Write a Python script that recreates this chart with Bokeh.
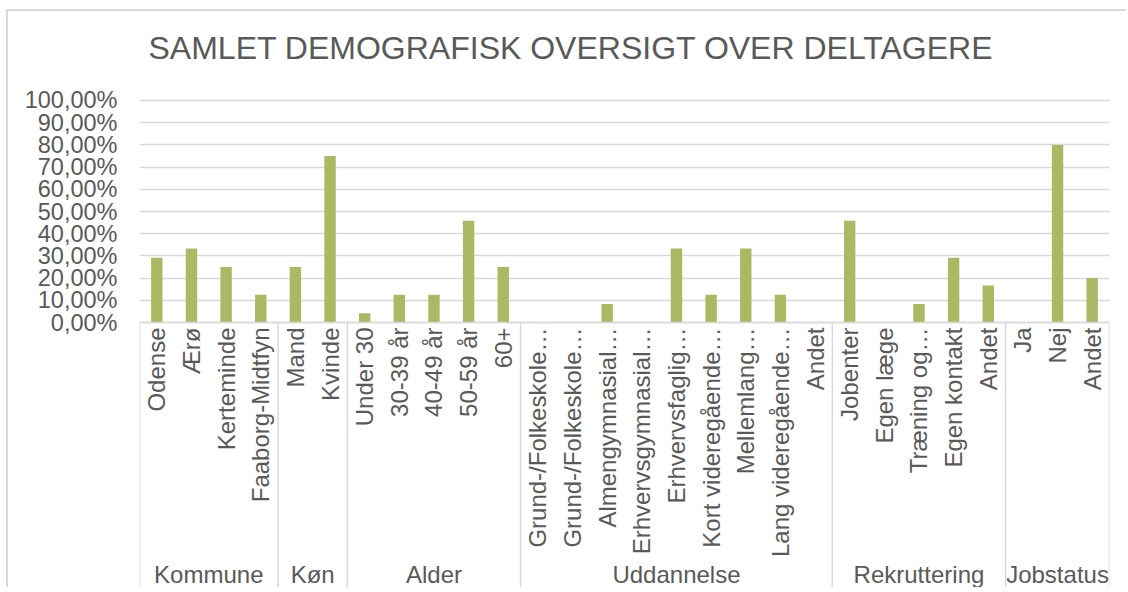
import math
from bokeh.plotting import figure
from bokeh.models import FactorRange, Range1d, FixedTicker, ColumnDataSource
from bokeh.embed import file_html
from bokeh.resources import INLINE
from bokeh.core.properties import value

# ---- data ----
title_text = "SAMLET DEMOGRAFISK OVERSIGT OVER DELTAGERE"
groups = ["Kommune", "Køn", "Alder", "Uddannelse", "Rekruttering", "Jobstatus"]

kommune = ["Odense", "Ærø", "Kerteminde", "Faaborg-Midtfyn"]
kommune_vals = [29.17, 33.33, 25.0, 12.5]

koen = ["Mand", "Kvinde"]
koen_vals = [25.0, 75.0]

alder = ["Under 30", "30-39 år", "40-49 år", "50-59 år", "60+"]
alder_vals = [4.17, 12.5, 12.5, 45.83, 25.0]

uddannelse = ["Grund-/Folkeskole…", "Grund-/Folkeskole…\u200b", "Almengymnasial…",
              "Erhvervsgymnasial…", "Erhvervsfaglig…", "Kort videregående…",
              "Mellemlang…", "Lang videregående…", "Andet"]
uddannelse_vals = [0.0, 0.0, 8.33, 0.0, 33.33, 12.5, 33.33, 12.5, 0.0]

rekruttering = ["Jobenter", "Egen læge", "Træning og…", "Egen kontakt", "Andet"]
rekruttering_vals = [45.83, 0.0, 8.33, 29.17, 16.67]

jobstatus = ["Ja", "Nej", "Andet"]
jobstatus_vals = [0.0, 80.0, 20.0]

y_ticks = [0, 10, 20, 30, 40, 50, 60, 70, 80, 90, 100]
y_tick_labels = ["0,00%", "10,00%", "20,00%", "30,00%", "40,00%", "50,00%",
                 "60,00%", "70,00%", "80,00%", "90,00%", "100,00%"]

# ---- build ----
group_cats = [kommune, koen, alder, uddannelse, rekruttering, jobstatus]
group_vals = [kommune_vals, koen_vals, alder_vals, uddannelse_vals, rekruttering_vals, jobstatus_vals]

factors = [(g, c) for g, cats in zip(groups, group_cats) for c in cats]
tops = [v for vals in group_vals for v in vals]

sizes = [len(c) for c in group_cats]
bounds = [0]
for s in sizes:
    bounds.append(bounds[-1] + s)
centers = [(bounds[i] + bounds[i + 1]) / 2 for i in range(len(sizes))]

GRAY = "#595959"
LINE = "#d9d9d9"
FONT = "Liberation Sans"

y_top = 140.09
y_bot = -120.27
y_grp = -113.3
y_title = 123.87

p = figure(width=1120, height=578,
           x_range=FactorRange(*factors, factor_padding=0, group_padding=0,
                               subgroup_padding=0, range_padding=0),
           y_range=Range1d(y_bot, y_top),
           output_backend="svg", toolbar_location=None,
           min_border_left=131, min_border_right=19,
           min_border_top=0, min_border_bottom=0)

p.outline_line_color = None
p.background_fill_color = "white"
p.border_fill_color = "white"
p.styles = {"margin-left": "6px", "margin-top": "9px",
            "border-top": "2px solid #d9d9d9", "border-left": "2px solid #d9d9d9"}

# chart title
p.text(x=[bounds[0]], y=[y_title], text=[title_text], x_offset=9,
       text_align="left", text_baseline="middle",
       text_font=value(FONT), text_font_size="32px", text_color=GRAY)

src = ColumnDataSource(dict(x=factors, top=tops))
p.vbar(x="x", top="top", width=0.33, source=src, fill_color="#ADB865", line_color=None)

# separators between groups
p.segment(x0=bounds, y0=[0] * len(bounds), x1=bounds, y1=[y_bot] * len(bounds),
          line_color=LINE, line_width=1.5)

# group labels
p.text(x=centers, y=[y_grp] * len(groups), text=groups,
       text_align="center", text_baseline="middle",
       text_font=value(FONT), text_font_size="24px", text_color=GRAY)

xa = p.below[0]
xa.fixed_location = 0
xa.major_label_orientation = math.pi / 2
xa.major_label_text_font = FONT
xa.major_label_text_font_size = "24px"
xa.major_label_text_color = GRAY
xa.major_label_standoff = 5
xa.major_tick_out = 0
xa.major_tick_in = 0
xa.major_tick_line_color = None
xa.minor_tick_line_color = None
xa.axis_line_color = LINE
xa.axis_line_width = 1.5
xa.group_text_color = None
xa.separator_line_color = None

ya = p.left[0]
ya.ticker = FixedTicker(ticks=y_ticks)
ya.major_label_overrides = dict(zip(y_ticks, y_tick_labels))
ya.axis_line_color = None
ya.major_tick_out = 0
ya.major_tick_in = 0
ya.major_tick_line_color = None
ya.minor_tick_line_color = None
ya.major_label_text_font = FONT
ya.major_label_text_font_size = "23.5px"
ya.major_label_text_color = GRAY
ya.major_label_standoff = 22

p.xgrid.visible = False
p.ygrid.grid_line_color = LINE
p.ygrid.grid_line_width = 1.5

open("out.html", "w").write(file_html(p, INLINE))
